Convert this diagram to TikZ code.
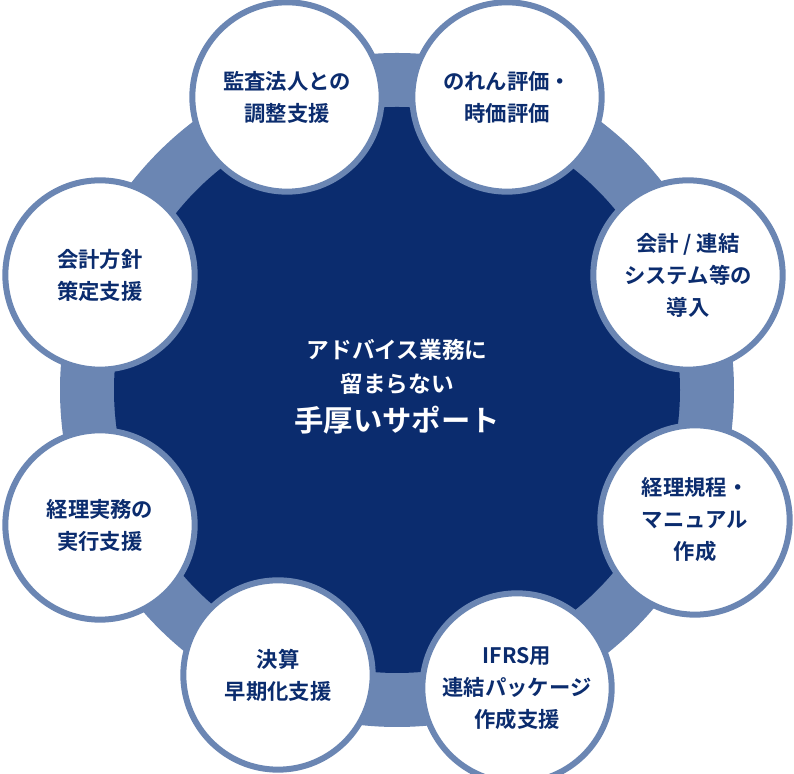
\documentclass[tikz,border=0pt]{standalone}
\usepackage{fontspec}
\setmainfont{Noto Sans CJK JP}[BoldFont={* Bold}]
\usetikzlibrary{positioning}
\definecolor{navy}{HTML}{0B2C6E}
\definecolor{ringblue}{HTML}{6B86B3}
\tikzset{
  task/.style={circle, draw=ringblue, line width=4.5pt, fill=white, minimum size=142pt,
    align=center, text=navy, font=\bfseries\fontsize{16}{24}\selectfont},
}
\begin{document}
\begin{tikzpicture}[x=0.75pt,y=0.75pt]
        \useasboundingbox (0,0) rectangle (794,774);

        % ring and centre
        \fill[ringblue] (397,384) circle (337);
        \fill[navy] (397,384) circle (283);

        \node[task] (audit) at (287,677) {監査法人との\\調整支援};
        \node[task] (goodwill) at (507,677) {のれん評価・\\時価評価};
        \node[task] (system) at (688,499) {会計 / 連結\\システム等の\\導入};
        \node[task] (manual) at (695,254) {経理規程・\\マニュアル\\作成};
        \node[task] (ifrs) at (517,86) {IFRS用\\連結パッケージ\\作成支援};
        \node[task] (closing) at (278,99) {決算\\早期化支援};
        \node[task] (practice) at (100,249) {経理実務の\\実行支援};
        \node[task] (policy) at (100,499) {会計方針\\策定支援};

        \node[align=center, text=white, font=\bfseries\fontsize{17}{25}\selectfont] (lead) at (397,407) {アドバイス業務に\\留まらない};
        \node[below=2pt of lead, text=white, font=\bfseries\fontsize{22}{27}\selectfont] (support) {手厚いサポート};
    \end{tikzpicture}
\end{document}
